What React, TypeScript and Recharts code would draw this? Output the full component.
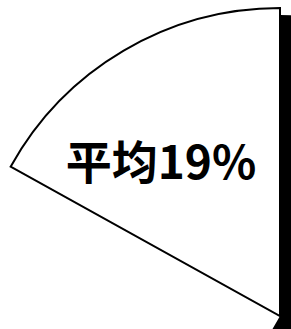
import { PieChart, Pie, Cell } from "recharts";

const avgLabel = "平均";
const avgValue = 19;
const restValue = 81;

const avgData = [{ name: avgLabel, value: avgValue }];
const restData = [{ name: "其他", value: restValue }];

const renderLabel = (props: any) => {
  const { cx, cy } = props;
  return (
    <text
      x={cx - 119}
      y={cy - 137}
      textAnchor="middle"
      fill="#000"
      fontSize={46}
      fontWeight={700}
      fontFamily='"Noto Sans CJK SC", sans-serif'
    >
      {`${avgLabel}${avgValue}%`}
    </text>
  );
};

export default function App() {
  return (
    <div style={{ width: 291, height: 329, overflow: "hidden" }}>
      <style>{"body{margin:0;overflow:hidden}"}</style>
      <PieChart width={291} height={329} margin={{ top: 0, right: 0, bottom: 0, left: 0 }}>
        <Pie
          data={restData}
          dataKey="value"
          cx={280}
          cy={316}
          outerRadius={301}
          startAngle={90}
          endAngle={-120}
          stroke="none"
          isAnimationActive={false}
        >
          {restData.map((d, i) => (
            <Cell key={`r-${i}`} fill="#000" />
          ))}
        </Pie>
        <Pie
          data={avgData}
          dataKey="value"
          cx={280}
          cy={316}
          outerRadius={308}
          startAngle={90}
          endAngle={151}
          stroke="#000"
          strokeWidth={2}
          label={renderLabel}
          labelLine={false}
          isAnimationActive={false}
        >
          {avgData.map((d, i) => (
            <Cell key={`a-${i}`} fill="#fff" />
          ))}
        </Pie>
      </PieChart>
    </div>
  );
}
